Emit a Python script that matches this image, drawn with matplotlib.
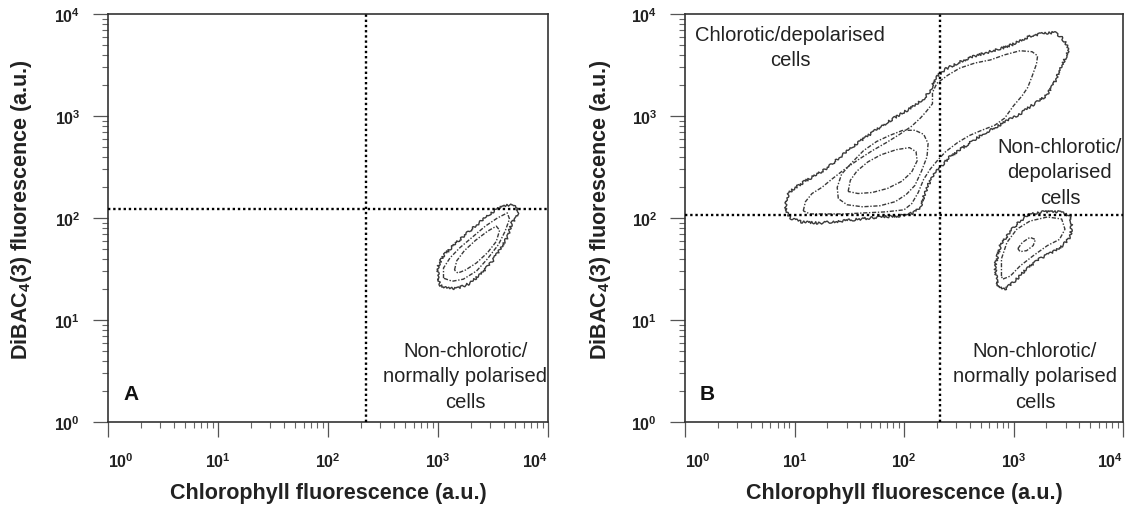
import numpy as np
import matplotlib
matplotlib.use('Agg')
import matplotlib.pyplot as plt
from matplotlib.ticker import LogLocator, NullFormatter

plt.rcParams['font.family'] = ['Liberation Sans', 'DejaVu Sans']
plt.rcParams['mathtext.fontset'] = 'custom'
plt.rcParams['mathtext.rm'] = 'Liberation Sans'
plt.rcParams['mathtext.bf'] = 'Liberation Sans:bold'

# ---------------- data ----------------
decade_ticks = [1, 10, 100, 1000, 10000]
decade_labels = [r'$\mathbf{10^{0}}$', r'$\mathbf{10^{1}}$', r'$\mathbf{10^{2}}$',
                 r'$\mathbf{10^{3}}$', r'$\mathbf{10^{4}}$']

x_label = 'Chlorophyll fluorescence (a.u.)'
y_label = r'DiBAC$_{\mathbf{4}}$(3) fluorescence (a.u.)'

# quadrant gates (a.u.)
gate_A_chl, gate_A_dibac = 220, 123
gate_B_chl, gate_B_dibac = 213, 107

# contour outlines, log10 of fluorescence (a.u.)
# Panel A, single population
A_outer_chl = [3.00, 3.00, 3.04, 3.13, 3.23, 3.35, 3.47, 3.56, 3.65, 3.72, 3.73, 3.67, 3.63, 3.56, 3.49, 3.40, 3.29, 3.18, 3.08, 3.02]
A_outer_dib = [1.40, 1.52, 1.62, 1.72, 1.82, 1.93, 2.04, 2.10, 2.13, 2.10, 2.03, 1.95, 1.81, 1.69, 1.57, 1.46, 1.36, 1.31, 1.31, 1.34]
A_mid_chl = [3.05, 3.05, 3.11, 3.20, 3.31, 3.43, 3.54, 3.63, 3.65, 3.61, 3.55, 3.45, 3.35, 3.23, 3.13]
A_mid_dib = [1.41, 1.51, 1.61, 1.71, 1.81, 1.92, 2.00, 2.05, 1.99, 1.87, 1.74, 1.60, 1.48, 1.40, 1.38]
A_inner_chl = [3.15, 3.17, 3.24, 3.34, 3.45, 3.53, 3.56, 3.53, 3.45, 3.35, 3.25, 3.18]
A_inner_dib = [1.49, 1.58, 1.68, 1.78, 1.87, 1.92, 1.88, 1.77, 1.66, 1.56, 1.49, 1.46]

# Panel B, chlorotic population (large)
B_outer_chl = [0.92, 0.95, 1.01, 1.11, 1.21, 1.31, 1.42, 1.53, 1.65, 1.78, 1.91, 2.02, 2.11, 2.18, 2.24, 2.29, 2.38, 2.49, 2.62, 2.75,
               2.88, 2.99, 3.08, 3.17, 3.28, 3.38, 3.44, 3.48, 3.50, 3.46, 3.42, 3.39, 3.35, 3.30, 3.22, 3.15, 3.06, 2.95, 2.84, 2.73,
               2.62, 2.51, 2.42, 2.35, 2.27, 2.22, 2.18, 2.15, 2.09, 1.96, 1.78, 1.60, 1.42, 1.23, 1.07, 0.96, 0.92]
B_outer_dib = [2.16, 2.25, 2.30, 2.37, 2.43, 2.50, 2.60, 2.70, 2.79, 2.89, 2.98, 3.05, 3.11, 3.17, 3.25, 3.38, 3.46, 3.52, 3.58, 3.62,
               3.66, 3.70, 3.75, 3.79, 3.81, 3.82, 3.77, 3.71, 3.63, 3.54, 3.46, 3.36, 3.28, 3.20, 3.14, 3.09, 3.02, 2.96, 2.89, 2.83,
               2.75, 2.67, 2.60, 2.52, 2.43, 2.32, 2.21, 2.11, 2.05, 2.02, 2.01, 1.99, 1.97, 1.95, 1.96, 2.00, 2.07]
B_second_chl = [1.08, 1.10, 1.16, 1.25, 1.34, 1.46, 1.58, 1.71, 1.84, 1.96, 2.07, 2.15, 2.20, 2.26, 2.26, 2.30, 2.40, 2.51, 2.65, 2.79,
                2.92, 3.06, 3.17, 3.22, 3.21, 3.17, 3.13, 3.08, 3.00, 2.92, 2.83, 2.71, 2.60, 2.49, 2.38, 2.31, 2.24, 2.18, 2.13, 2.07,
                2.00, 1.83, 1.64, 1.46, 1.28, 1.14]
B_second_dib = [2.07, 2.16, 2.24, 2.30, 2.38, 2.48, 2.57, 2.66, 2.74, 2.82, 2.90, 2.98, 3.04, 3.12, 3.23, 3.32, 3.40, 3.47, 3.52, 3.55,
                3.60, 3.64, 3.63, 3.59, 3.51, 3.39, 3.28, 3.20, 3.10, 2.98, 2.91, 2.86, 2.81, 2.74, 2.65, 2.57, 2.48, 2.38, 2.25, 2.14,
                2.08, 2.06, 2.05, 2.04, 2.04, 2.04]
B_third_chl = [1.40, 1.39, 1.43, 1.53, 1.63, 1.75, 1.87, 1.99, 2.10, 2.18, 2.22, 2.21, 2.16, 2.10, 2.02, 1.92, 1.78, 1.62, 1.48]
B_third_dib = [2.19, 2.30, 2.43, 2.55, 2.66, 2.75, 2.81, 2.86, 2.86, 2.82, 2.73, 2.60, 2.46, 2.32, 2.23, 2.16, 2.12, 2.11, 2.13]
B_core_chl = [1.49, 1.51, 1.57, 1.67, 1.79, 1.93, 2.05, 2.11, 2.12, 2.07, 1.98, 1.85, 1.71, 1.58]
B_core_dib = [2.26, 2.37, 2.46, 2.55, 2.62, 2.67, 2.69, 2.65, 2.56, 2.45, 2.36, 2.29, 2.25, 2.24]

# Panel B, non-chlorotic population (small)
B_small_outer_chl = [2.85, 2.83, 2.88, 2.97, 3.06, 3.15, 3.27, 3.42, 3.52, 3.53, 3.52, 3.45, 3.36, 3.24, 3.12, 3.00, 2.92, 2.86]
B_small_outer_dib = [1.37, 1.53, 1.73, 1.87, 1.97, 2.04, 2.06, 2.06, 2.02, 1.92, 1.82, 1.73, 1.67, 1.60, 1.50, 1.37, 1.30, 1.32]
B_small_mid_chl = [2.89, 2.89, 2.94, 3.03, 3.15, 3.31, 3.44, 3.47, 3.42, 3.31, 3.18, 3.06, 2.97, 2.90]
B_small_mid_dib = [1.43, 1.60, 1.76, 1.89, 1.97, 2.01, 1.99, 1.89, 1.79, 1.73, 1.63, 1.53, 1.43, 1.40]
B_small_core_chl = [3.04, 3.08, 3.15, 3.20, 3.18, 3.12, 3.06]
B_small_core_dib = [1.70, 1.76, 1.81, 1.79, 1.73, 1.68, 1.67]

# ---------------- figure ----------------
W, H = 1131, 506
fig = plt.figure(figsize=(W / 100, H / 100), dpi=100)
axA = fig.add_axes([108 / W, 83 / H, 440 / W, 408 / H])
axB = fig.add_axes([685 / W, 83 / H, 438 / W, 408 / H])

line_col = '#3a3a3a'
solid = dict(color=line_col, lw=1.0, ls='-')
dashdot = dict(color=line_col, lw=1.0, ls=(0, (3, 1.2, 1, 1.2)))


def contour(ax, lchl, ldib, style, wiggle=True):
    x = 10 ** np.array(lchl + lchl[:1])
    y = 10 ** np.array(ldib + ldib[:1])
    ln, = ax.plot(x, y, **style, zorder=3)
    if wiggle:
        ln.set_sketch_params(scale=1.2, length=2.5, randomness=6)
    return ln


def style_axes(ax):
    ax.set_xscale('log')
    ax.set_yscale('log')
    ax.set_xlim(1, 1e4)
    ax.set_ylim(1, 1e4)
    ax.set_xticks(decade_ticks, decade_labels)
    ax.set_yticks(decade_ticks, decade_labels)
    for axis in (ax.xaxis, ax.yaxis):
        axis.set_minor_locator(LogLocator(base=10, subs=np.arange(2, 10), numticks=20))
        axis.set_minor_formatter(NullFormatter())
    ax.tick_params(which='major', direction='out', length=11, width=0.9, color='#555555',
                   labelsize=11.5, labelcolor='#222222')
    ax.tick_params(axis='x', which='major', pad=10)
    ax.tick_params(axis='y', which='major', pad=9)
    ax.tick_params(which='minor', direction='out', length=4.5, width=0.8, color='#666666')
    xl = ax.get_xticklabels()
    xl[0].set_horizontalalignment('left')
    xl[-1].set_horizontalalignment('right')
    for sp in ax.spines.values():
        sp.set_linewidth(1.2)
        sp.set_color('#333333')
    ax.set_xlabel(x_label, fontsize=15.5, fontweight='bold', color='#222222')
    ax.xaxis.set_label_coords(0.5, -0.147)


for ax in (axA, axB):
    style_axes(ax)

fig.text(22 / W, 1 - 210 / H, y_label, rotation=90, ha='center', va='center',
         fontsize=15.5, fontweight='bold', color='#222222')
fig.text(600 / W, 1 - 210 / H, y_label, rotation=90, ha='center', va='center',
         fontsize=15.5, fontweight='bold', color='#222222')

# gates
dots = dict(color='black', lw=1.7, ls=(0, (1, 1.2)), zorder=4)
axA.axvline(gate_A_chl, **dots)
axA.axhline(gate_A_dibac, **dots)
axB.axvline(gate_B_chl, **dots)
axB.axhline(gate_B_dibac, **dots)

# contours
contour(axA, A_outer_chl, A_outer_dib, solid)
contour(axA, A_mid_chl, A_mid_dib, dashdot, wiggle=False)
contour(axA, A_inner_chl, A_inner_dib, dashdot, wiggle=False)

contour(axB, B_outer_chl, B_outer_dib, solid)
contour(axB, B_second_chl, B_second_dib, dashdot, wiggle=False)
contour(axB, B_third_chl, B_third_dib, dashdot, wiggle=False)
contour(axB, B_core_chl, B_core_dib, dashdot, wiggle=False)
contour(axB, B_small_outer_chl, B_small_outer_dib, solid)
contour(axB, B_small_mid_chl, B_small_mid_dib, dashdot, wiggle=False)
contour(axB, B_small_core_chl, B_small_core_dib, dashdot, wiggle=False)

# annotations
txt = dict(fontsize=14.5, color='#222222', ha='center', va='center', linespacing=1.45)
axA.text(0.812, 0.113, 'Non-chlorotic/\nnormally polarised\ncells', transform=axA.transAxes, **txt)
axB.text(0.24, 0.919, 'Chlorotic/depolarised\ncells', transform=axB.transAxes, **txt)
axB.text(0.856, 0.613, 'Non-chlorotic/\ndepolarised\ncells', transform=axB.transAxes, **txt)
axB.text(0.799, 0.113, 'Non-chlorotic/\nnormally polarised\ncells', transform=axB.transAxes, **txt)

axA.text(0.052, 0.069, 'A', transform=axA.transAxes, fontsize=15, fontweight='bold',
         ha='center', va='center', color='#111111')
axB.text(0.050, 0.069, 'B', transform=axB.transAxes, fontsize=15, fontweight='bold',
         ha='center', va='center', color='#111111')

fig.savefig('out.png', dpi=100)
